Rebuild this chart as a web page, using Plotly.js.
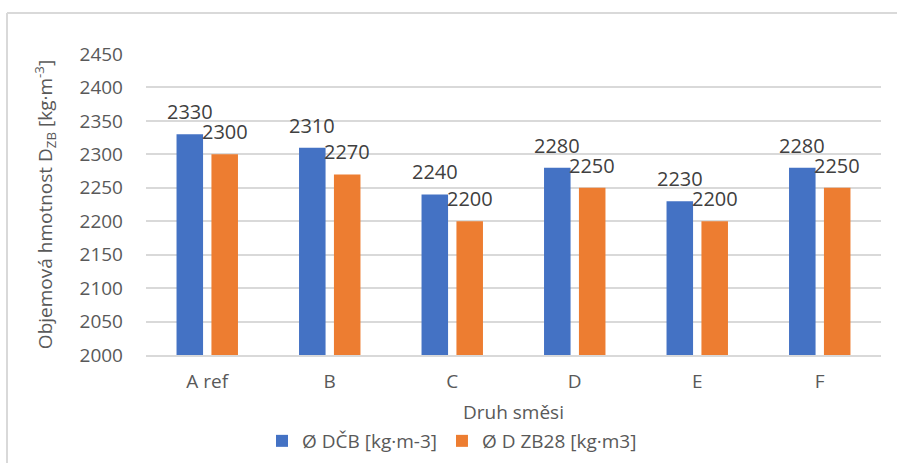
<!DOCTYPE html>
<html>
<head>
<meta charset="utf-8">
<script src="https://cdn.plot.ly/plotly-3.0.1.min.js"></script>
<style>html,body{margin:0;padding:0;background:#fff;}#chart{width:897px;height:463px;}</style>
</head>
<body>
<div id="chart"></div>
<script>
const categories = ["A ref", "B", "C", "D", "E", "F"];
const dcbValues = [2330, 2310, 2240, 2280, 2230, 2280];
const zb28Values = [2300, 2270, 2200, 2250, 2200, 2250];
const seriesNames = ["Ø DČB [kg·m-3]", "Ø D ZB28 [kg·m3]"];
const yTicks = [2000, 2050, 2100, 2150, 2200, 2250, 2300, 2350, 2400, 2450];

const FONT = '"Open Sans", "DejaVu Sans", sans-serif';
const L = 146, R = 881, T = 54, B = 355, W = 897, H = 463;
const px = x => (x - L) / (R - L);
const py = y => (B - y) / (B - T);

const traces = [
  {type: 'bar', name: seriesNames[0], x: categories, y: dcbValues,
   marker: {color: '#4472C4'}, hoverinfo: 'x+y'},
  {type: 'bar', name: seriesNames[1], x: categories, y: zb28Values,
   marker: {color: '#ED7D31'}, hoverinfo: 'x+y'}
];

const annotations = [];
categories.forEach((c, i) => {
  annotations.push({x: c, y: dcbValues[i], xref: 'x', yref: 'y', text: String(dcbValues[i]),
    showarrow: false, xshift: -17.5, yshift: 7, yanchor: 'bottom',
    font: {family: FONT, size: 20, color: '#404040'}});
  annotations.push({x: c, y: zb28Values[i], xref: 'x', yref: 'y', text: String(zb28Values[i]),
    showarrow: false, xshift: 17.5, yshift: 7, yanchor: 'bottom',
    font: {family: FONT, size: 20, color: '#404040'}});
});

const layout = {
  width: W, height: H,
  margin: {l: L, r: W - R, t: T, b: H - B, autoexpand: false},
  paper_bgcolor: '#fff', plot_bgcolor: '#fff',
  font: {family: FONT, size: 19, color: '#595959'},
  barmode: 'group', bargap: 0.43, bargroupgap: 0.24,
  showlegend: true,
  legend: {orientation: 'h', x: px(452), xanchor: 'center', y: py(441), yanchor: 'middle',
    font: {family: FONT, size: 19, color: '#595959'}, traceorder: 'normal'},
  xaxis: {type: 'category', automargin: false, showgrid: false, showline: true, linecolor: '#d9d9d9', linewidth: 2,
    ticks: '', ticklabelstandoff: 8, tickfont: {family: FONT, size: 19, color: '#595959'},
    title: {text: 'Druh směsi', standoff: 13, font: {family: FONT, size: 19, color: '#595959'}}},
  yaxis: {range: [2000, 2450], automargin: false, tickvals: yTicks, showgrid: true, gridcolor: '#d9d9d9', gridwidth: 1.5,
    zeroline: false, showline: false, ticks: '', ticklabelstandoff: 22,
    tickfont: {family: FONT, size: 19, color: '#595959'},
    title: {text: 'Objemová hmotnost D<sub>ZB</sub> [kg·m<sup>-3</sup>]', standoff: 21,
      font: {family: FONT, size: 19, color: '#595959'}}},
  annotations: annotations,
  shapes: [
    {type: 'line', xref: 'paper', yref: 'paper', x0: px(7), x1: px(7), y0: py(13), y1: py(470),
     line: {color: '#d9d9d9', width: 2}},
    {type: 'line', xref: 'paper', yref: 'paper', x0: px(7), x1: px(900), y0: py(13), y1: py(13),
     line: {color: '#d9d9d9', width: 2}}
  ]
};

Plotly.newPlot('chart', traces, layout, {displayModeBar: false, responsive: false});
</script>
</body>
</html>
